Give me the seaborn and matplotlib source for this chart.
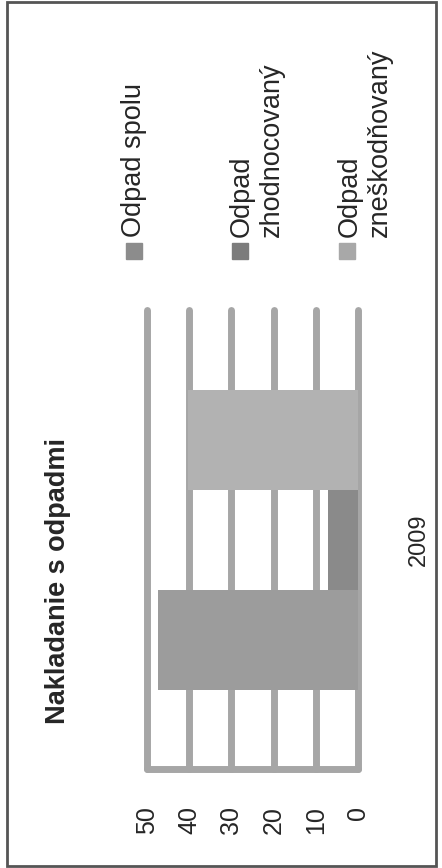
import numpy as np
import pandas as pd
import matplotlib.pyplot as plt
import seaborn as sns
from matplotlib.patches import Rectangle

rok = ['2009']
typy = ['Odpad spolu', 'Odpad zhodnocovaný', 'Odpad zneškodňovaný']
legenda = ['Odpad spolu', 'Odpad\nzhodnocovaný', 'Odpad\nzneškodňovaný']
hodnoty = [47.3, 7.0, 40.3]
os_x = [0, 10, 20, 30, 40, 50]

farby = ['#9c9c9c', '#8a8a8a', '#b2b2b2']
farby_leg = ['#8c8c8c', '#7c7c7c', '#a8a8a8']
siva = '#a6a6a6'

df = pd.DataFrame({'rok': rok * len(typy), 'typ': typy, 'hodnota': hodnoty})

sns.set_style('white')
plt.rcParams['font.family'] = ['Liberation Sans', 'DejaVu Sans']

W, H = 442, 868
fig = plt.figure(figsize=(W / 100, H / 100), dpi=100)
ax = fig.add_axes([147 / W, 1 - 769 / H, (358 - 147) / W, (769 - 310) / H])

sns.barplot(data=df, y='rok', x='hodnota', hue='typ', hue_order=typy,
            palette=farby, orient='h', width=0.8, saturation=1,
            legend=False, ax=ax)
for p in ax.patches:
    p.set_edgecolor('none')
    p.set_zorder(2)

# chart is drawn turned 90 degrees: values grow to the left
ax.set_xlim(50, 0)
ax.set_ylim(-0.612, 0.612)

for v in os_x:
    ax.axvline(v, color=siva, lw=5, zorder=1, clip_on=False, solid_capstyle='round')
for s in ['top', 'left', 'right']:
    ax.spines[s].set_visible(False)
ax.spines['bottom'].set_color(siva)
ax.spines['bottom'].set_linewidth(5)
ax.spines['bottom'].set_capstyle('round')

ax.set_xticks(os_x)
ax.set_xticklabels([str(v) for v in os_x])
ax.tick_params(axis='x', length=0, pad=27, labelsize=18, labelrotation=90)
ax.yaxis.tick_right()
ax.tick_params(axis='y', length=0, pad=36, labelsize=17, labelrotation=90)
for lbl in ax.get_yticklabels():
    lbl.set_va('center')
ax.set_xlabel('')
ax.set_ylabel('')

fig.text(58.5 / W, 1 - 581 / H, 'Nakladanie s odpadmi', rotation=90,
         ha='center', va='center', fontsize=19.5, fontweight='bold')

# legend, also turned
leg_x = [134, 257, 365]
stv_x = [134, 240, 347]
for tx, sx, txt, c in zip(leg_x, stv_x, legenda, farby_leg):
    fig.patches.append(Rectangle(((sx - 8) / W, 1 - 259 / H), 16 / W, 16 / H,
                                 transform=fig.transFigure, color=c))
    fig.text(tx / W, 1 - 237 / H, txt, rotation=90, ha='center', va='bottom',
             multialignment='left', fontsize=19.5, linespacing=1.2)

fig.patches.append(Rectangle((7 / W, 2 / H), (436 - 7) / W, (866 - 2) / H,
                             transform=fig.transFigure, fill=False,
                             edgecolor='#555555', lw=2))

fig.savefig('out.png', dpi=100)
